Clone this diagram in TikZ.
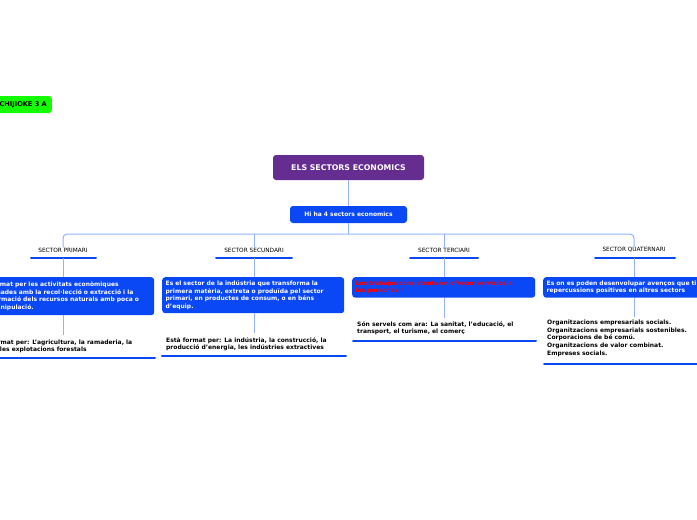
\documentclass[tikz,border=0pt]{standalone}
\usepackage{fontspec}
\setmainfont{DejaVu Sans}
\begin{document}
\begin{tikzpicture}[x=1pt,y=-1pt]
\definecolor{mblue}{HTML}{0A47F5}
\definecolor{lblue}{HTML}{92B2FF}
\tikzset{conn/.style={draw=lblue, line width=1pt}, ul/.style={draw=mblue, line width=2pt, line cap=round},
  bbox/.style={fill=mblue, rounded corners=3pt, text=white, font=\bfseries\fontsize{6}{7.6}\selectfont, align=left, inner sep=3.5pt, anchor=north west},
  ptxt/.style={text=black, font=\bfseries\fontsize{6}{7.6}\selectfont, align=left, inner sep=0pt, anchor=north west},
  slab/.style={font=\fontsize{5.8}{7}\selectfont, inner sep=0pt}}
\useasboundingbox (0,0) rectangle (697,520);
\clip (0,0) rectangle (697,520);
% green
\node[fill=green!90!lime, rounded corners=3pt, minimum height=17pt, inner sep=5pt, anchor=east, font=\bfseries\fontsize{6.6}{7}\selectfont] (g) at (52,104.5) {CHIJIOKE 3 A};
% title
\node[fill={rgb,255:red,102;green,45;blue,145}, text=white, rounded corners=3pt, minimum width=151pt, minimum height=25pt, font=\bfseries\fontsize{7.8}{9}\selectfont] (t) at (348.5,167.5) {ELS SECTORS ECONOMICS};
\node[fill=mblue, text=white, rounded corners=3pt, minimum width=117pt, minimum height=17pt, font=\bfseries\fontsize{6}{7}\selectfont] (h) at (348.5,214.5) {Hi ha 4 sectors economics};
\draw[conn] (t.south) -- (h.north);
\coordinate (hb) at (348.5,234);
\draw[conn] (h.south) -- (hb);
% sector labels
\node[slab] (s1) at (63,250) {SECTOR PRIMARI};
\node[slab] (s2) at (254,250) {SECTOR SECUNDARI};
\node[slab] (s3) at (444,250) {SECTOR TERCIARI};
\node[slab] (s4) at (634,250) {SECTOR QUATERNARI};
\draw[conn, rounded corners=4pt] (s1.north) -- (63,234) -- (634,234) -- (s4.north);
\draw[conn, rounded corners=4pt] (254,234) -- (s2.north);
\draw[conn, rounded corners=4pt] (444,234) -- (s3.north);
\coordinate (u1) at (63,258); \coordinate (u2) at (254,258); \coordinate (u3) at (444,258); \coordinate (u4) at (634,258);
\draw[ul] (31,258) -- (96,258);
\draw[ul] (216,258) -- (292,258);
\draw[ul] (410,258) -- (478,258);
\draw[ul] (595,258) -- (675,258);
% boxes
\node[bbox, text width=177pt, minimum height=38pt] (b1) at (-30,277) {Està format per les activitats econòmiques\\relacionades amb la recol·lecció o extracció i la\\transformació dels recursos naturals amb poca o\\nula manipulació.};
\node[bbox, text width=175pt, minimum height=36pt] (b2) at (162,277) {Es el sector de la indústria que transforma la\\primera matèria, extreta o produïda pel sector\\primari, en productes de consum, o en béns\\d'equip.};
\node[bbox, text width=176pt, minimum height=20pt, text=red] (b3) at (352,277) {Los trabajos consistents en ofrecer servicios a\\las personas.r};
\node[bbox, text width=183pt, minimum height=20pt] (b4) at (543,277) {Es on es poden desenvolupar avenços que tinguin\\repercussions positives en altres sectors};
\draw[conn] (u1) -- (b1.north -| u1); \draw[conn] (u2) -- (b2.north -| u2);
\draw[conn] (u3) -- (b3.north -| u3); \draw[conn] (u4) -- (b4.north -| u4);
% text nodes
\node[ptxt] (p1) at (-26,339) {Està format per: L'agricultura, la ramaderia, la\\pesca i les explotacions forestals};
\node[ptxt] (p2) at (166,337) {Està format per: La indústria, la construcció, la\\producció d'energia, les indústries extractives};
\node[ptxt] (p3) at (357,321) {Són servels com ara: La sanitat, l'educació, el\\transport, el turisme, el comerç};
\node[ptxt] (p4) at (547,320) {Organitzacions empresarials socials.\\Organitzacions empresarials sostenibles.\\Corporacions de bé comú.\\Organitzacions de valor combinat.\\Empreses socials.};
\draw[conn] (b1.south -| u1) -- (63,335); \draw[conn] (b2.south -| u2) -- (254,333);
\draw[conn] (b3.south -| u3) -- (444,318); \draw[conn] (b4.south -| u4) -- (634,317);
\draw[ul] (-5,358) -- (155,358);
\draw[ul] (162,356) -- (346,356);
\draw[ul] (353,341) -- (536,341);
\draw[ul] (544,364) -- (700,364);
\end{tikzpicture}
\end{document}
